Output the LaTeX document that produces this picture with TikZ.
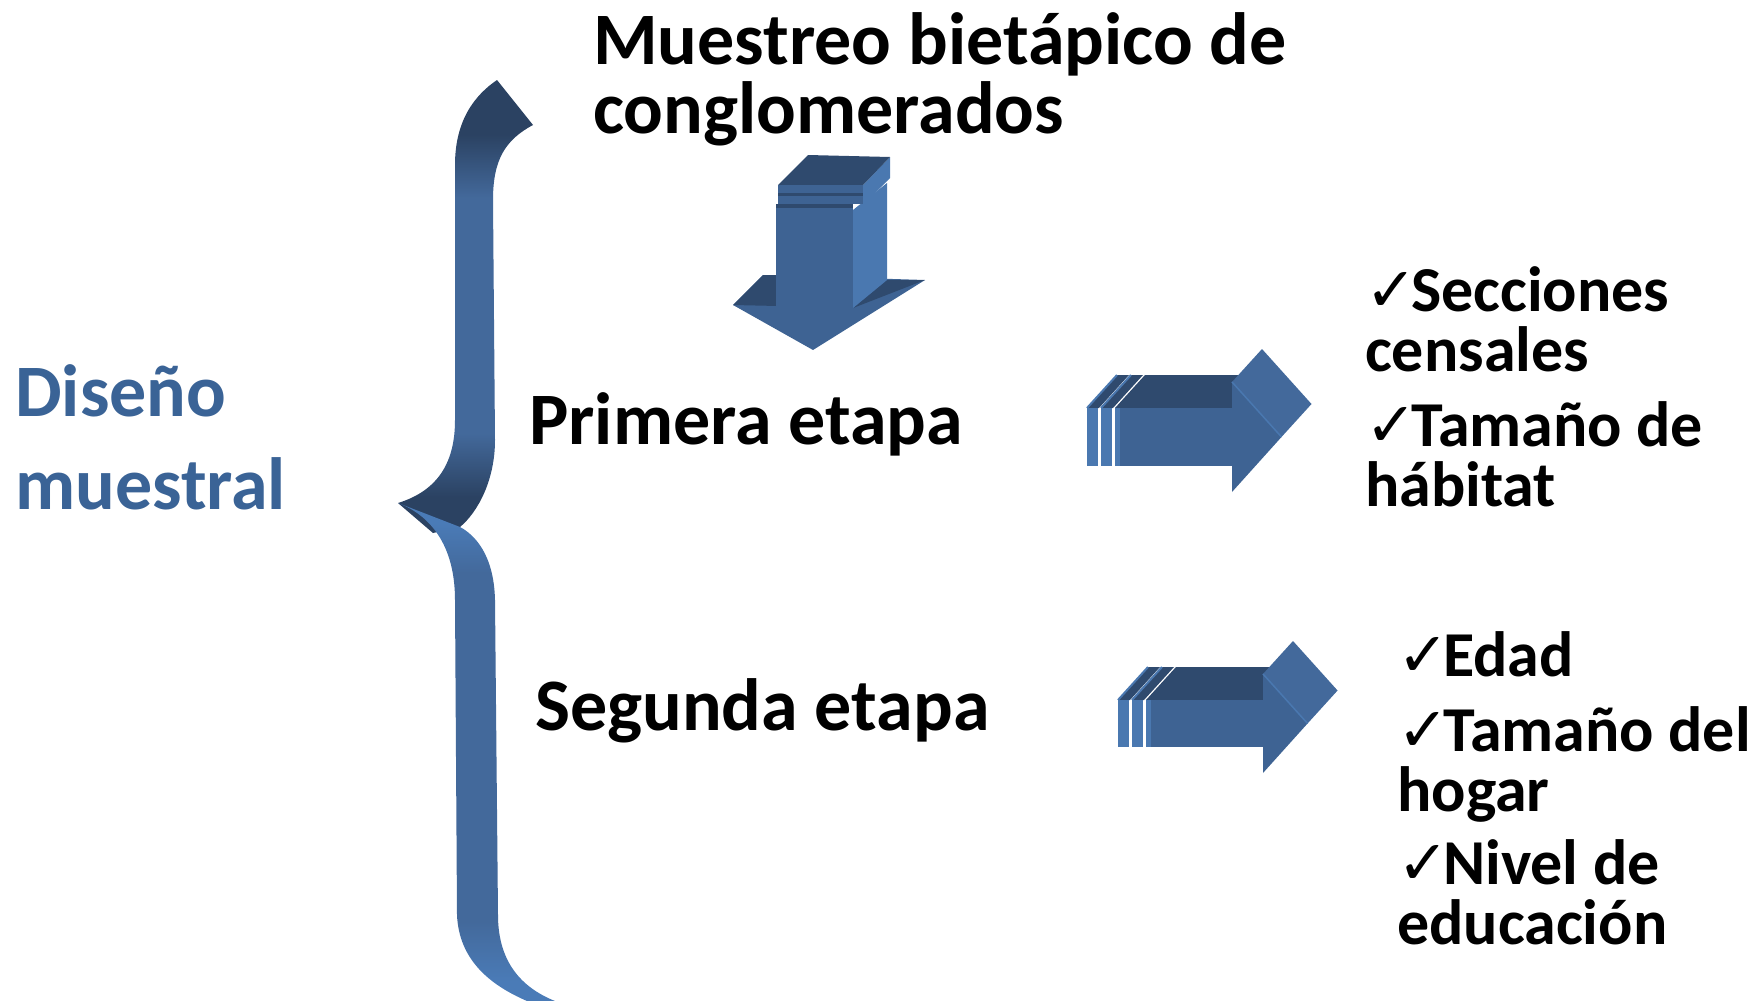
\documentclass[tikz,border=0pt]{standalone}
\usepackage{fontspec}
\setmainfont{Carlito}
\newfontfamily\checkfont{DejaVu Sans}
\usetikzlibrary{calc}

\definecolor{bracemid}{HTML}{43699B}
\definecolor{bracedark}{HTML}{2B4262}
\definecolor{bracelight}{HTML}{4A7BB7}
\definecolor{labelblue}{HTML}{3A6396}
\definecolor{facedark}{HTML}{2F4A6E}
\definecolor{facemid}{HTML}{3E6393}
\definecolor{facelight}{HTML}{4A78B0}

\pgfdeclareverticalshading{braceupper}{100bp}{color(0bp)=(bracedark); color(29bp)=(bracedark);
  color(36bp)=(bracemid); color(62bp)=(bracemid); color(69bp)=(bracedark); color(100bp)=(bracedark)}
\pgfdeclareverticalshading{bracelower}{100bp}{color(0bp)=(bracelight); color(27bp)=(bracelight);
  color(33bp)=(bracemid); color(68bp)=(bracemid); color(73bp)=(bracelight); color(100bp)=(bracelight)}

\newcommand\tick{{\checkfont\fontsize{62}{60}\selectfont ✓}\kern-6pt}

\tikzset{
  pics/flatarrow/.style={code={
    \pgfmathsetmacro\hm{#1/2}
    \pgfmathsetmacro\hH{#1/2+26}
    \pgfmathsetmacro\hx{145+0.9*\hH}
    % slabs
    \foreach \x in {0,14}{
      \fill[facedark] (\x,0) -- ++(30,-33) -- ++(12,0) -- ++(-30,33) -- cycle;
      \draw[facelight,line width=2pt] (\x,0) -- ++(30,-33);
      \fill[facelight] (\x,0) rectangle ++(11,#1);
    }
    \fill[facedark] (28,0) -- ++(30,-33) -- (176,-33) -- (146,0) -- cycle;
    \fill[facemid] (28,0) rectangle (146,#1);
    \fill[facelight] (28,0) rectangle (33,#1);
    % head
    \fill[bracemid] (145,\hm-\hH) -- ++(30,-33) -- ($(\hx,\hm)+(30,-33)$) -- (\hx,\hm) -- cycle;
    \fill[facemid] (145,\hm-\hH) -- (\hx,\hm) -- (145,\hm+\hH) -- cycle;
    \draw[facelight,line width=1.5pt] (145,\hm-\hH) -- (\hx,\hm);
  }}
}

\begin{document}
\begin{tikzpicture}[x=1pt,y=-1pt,
  heading/.style={font=\fontsize{74}{69}\selectfont\bfseries,anchor=base west,inner sep=0pt,align=left},
  checkitem/.style={font=\fontsize{64}{60}\selectfont\bfseries,anchor=base west,inner sep=0pt,align=left}]
\useasboundingbox (0,0) rectangle (1762,1001);

% brace
\shade[shading=braceupper] (497,80) -- (533,125) .. controls (505,140) and (493,160) .. (493,200)
  -- (495,440) .. controls (495,480) and (478,512) .. (460,527) -- (433,533) -- (398,503)
  .. controls (440,490) and (455,460) .. (455,420) -- (455,165) .. controls (455,120) and (475,95) .. (497,80) -- cycle;
\shade[shading=bracelower] (398,503) .. controls (430,515) and (455,545) .. (455,600) -- (457,915)
  .. controls (459,960) and (490,985) .. (527,1001) -- (555,1001) .. controls (515,985) and (498,955) .. (498,915)
  -- (495,600) .. controls (494,555) and (475,535) .. (460,527) -- cycle;

% down arrow
\fill[facemid] (763,275) -- (925,280) -- (813,350) -- (733,305) -- cycle;
\fill[facedark] (763,275) -- (778,275) -- (778,306) -- (733,305) -- cycle;
\fill[facedark] (887,280) -- (925,280) -- (853,308) -- cycle;
\fill[facelight] (853,210) -- (887,183) -- (887,280) -- (853,308) -- cycle;
\fill[facemid] (776,207) rectangle (853,308);
\fill[facelight] (863,185) -- (890,157) -- (890,178) -- (863,205) -- cycle;
\fill[facedark] (808,155) -- (890,157) -- (863,185) -- (778,185) -- cycle;
\fill[facemid] (778,185) rectangle (863,193);
\fill[facedark] (778,193) rectangle (863,196);
\fill[facemid] (778,196) rectangle (863,204);
\fill[facedark] (776,204) rectangle (853,208);

% right arrows
\pic at (1087,408) {flatarrow=58};
\pic at (1118,700) {flatarrow=47};

% texts (base = last line)
\node[heading] (title) at (593,133) {Muestreo bietápico de\\conglomerados};
\node[heading,font=\fontsize{74}{93}\selectfont\bfseries,text=labelblue] (diseno) at (15,509) {Diseño\\muestral};
\node[heading] (primera) at (529,444) {Primera etapa};
\node[heading] (segunda) at (535,730) {Segunda etapa};
\node[checkitem] (secciones) at (1365,371) {\tick Secciones\\censales};
\node[checkitem] (habitat) at (1365,506) {\tick Tamaño de\\hábitat};
\node[checkitem] (edad) at (1397,676) {\tick Edad};
\node[checkitem] (hogar) at (1397,811) {\tick Tamaño del\\hogar};
\node[checkitem] (educacion) at (1397,944) {\tick Nivel de\\educación};
\end{tikzpicture}
\end{document}
